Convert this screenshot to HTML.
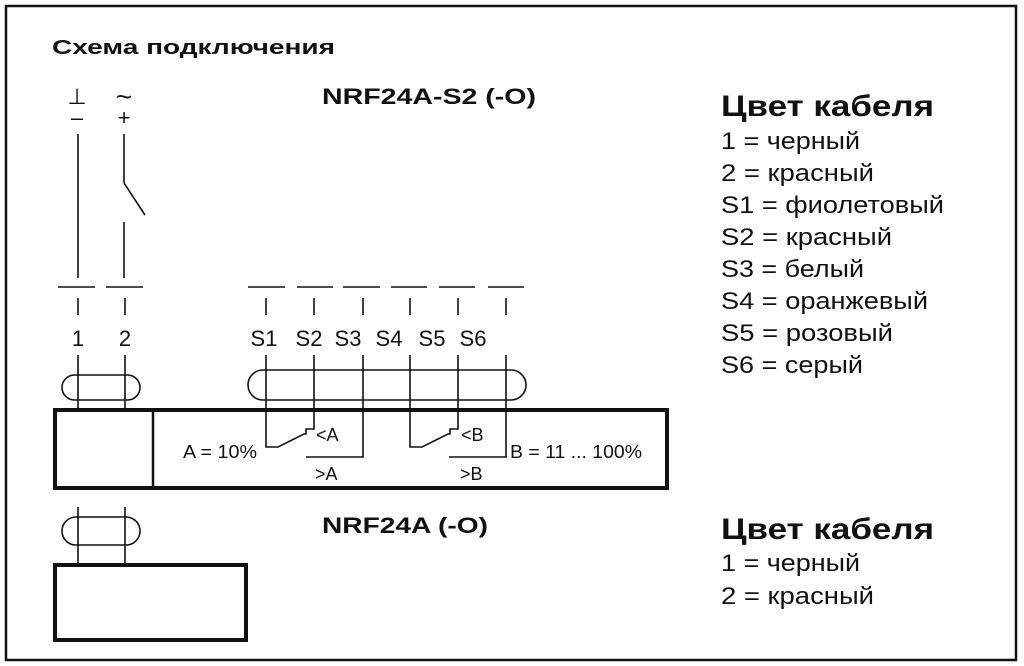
<!DOCTYPE html>
<html><head><meta charset="utf-8"><style>
html,body{margin:0;padding:0;background:#fff;}
svg{display:block;}
text{font-family:"Liberation Sans","DejaVu Sans",sans-serif;fill:#111;}
</style></head><body>
<svg width="1024" height="666" viewBox="0 0 1024 666" xmlns="http://www.w3.org/2000/svg">
<rect x="6" y="6" width="1010" height="654" fill="none" stroke="#111" stroke-width="2.5"/>
<text x="52" y="54" font-size="20" font-weight="bold" textLength="283" lengthAdjust="spacingAndGlyphs">Схема подключения</text>
<text x="322" y="104" font-size="22" font-weight="bold" textLength="214" lengthAdjust="spacingAndGlyphs">NRF24A-S2 (-O)</text>
<text x="322" y="533" font-size="22" font-weight="bold" textLength="166" lengthAdjust="spacingAndGlyphs">NRF24A (-O)</text>
<g font-size="30" font-weight="bold"><text x="721" y="116" textLength="213" lengthAdjust="spacingAndGlyphs">Цвет кабеля</text><text x="721" y="539" textLength="213" lengthAdjust="spacingAndGlyphs">Цвет кабеля</text></g>
<g font-size="24" lengthAdjust="spacingAndGlyphs">
<text x="721" y="149" textLength="139" lengthAdjust="spacingAndGlyphs">1 = черный</text>
<text x="721" y="181" textLength="153" lengthAdjust="spacingAndGlyphs">2 = красный</text>
<text x="721" y="213" textLength="223" lengthAdjust="spacingAndGlyphs">S1 = фиолетовый</text>
<text x="721" y="245" textLength="171" lengthAdjust="spacingAndGlyphs">S2 = красный</text>
<text x="721" y="277" textLength="143" lengthAdjust="spacingAndGlyphs">S3 = белый</text>
<text x="721" y="309" textLength="207" lengthAdjust="spacingAndGlyphs">S4 = оранжевый</text>
<text x="721" y="341" textLength="172" lengthAdjust="spacingAndGlyphs">S5 = розовый</text>
<text x="721" y="373" textLength="142" lengthAdjust="spacingAndGlyphs">S6 = серый</text>
<text x="721" y="571" textLength="139" lengthAdjust="spacingAndGlyphs">1 = черный</text>
<text x="721" y="604" textLength="153" lengthAdjust="spacingAndGlyphs">2 = красный</text>
</g>
<g font-size="22" text-anchor="middle">
<text x="77" y="104">⊥</text><text x="124" y="106" font-size="28">~</text>
<text x="77" y="125">–</text><text x="124" y="125">+</text>
<text x="78" y="346">1</text><text x="125" y="346">2</text>
<text x="264" y="346">S1</text><text x="309" y="346">S2</text><text x="348" y="346">S3</text>
<text x="389" y="346">S4</text><text x="432" y="346">S5</text><text x="473" y="346">S6</text>
</g>
<g stroke="#111" stroke-width="1.6" fill="none">
<line x1="78" y1="134" x2="78" y2="278"/>
<line x1="124" y1="134" x2="124" y2="183"/>
<line x1="124" y1="183" x2="145" y2="215"/>
<line x1="124" y1="222" x2="124" y2="278"/>
<line x1="58" y1="287" x2="95" y2="287"/><line x1="106" y1="287" x2="143" y2="287"/>
<line x1="248" y1="287" x2="285" y2="287"/><line x1="297" y1="287" x2="333" y2="287"/>
<line x1="343" y1="287" x2="380" y2="287"/><line x1="391" y1="287" x2="427" y2="287"/>
<line x1="439" y1="287" x2="475" y2="287"/><line x1="488" y1="287" x2="524" y2="287"/>
<g>
<line x1="78" y1="298" x2="78" y2="315"/><line x1="125" y1="298" x2="125" y2="315"/>
<line x1="266" y1="298" x2="266" y2="315"/><line x1="314" y1="298" x2="314" y2="315"/>
<line x1="363" y1="298" x2="363" y2="315"/><line x1="410" y1="298" x2="410" y2="315"/>
<line x1="458" y1="298" x2="458" y2="315"/><line x1="506" y1="298" x2="506" y2="315"/>
</g>
<line x1="78" y1="355" x2="78" y2="410"/><line x1="125" y1="355" x2="125" y2="410"/>
<rect x="62" y="375" width="78" height="25" rx="12.5"/>
<rect x="248" y="370" width="278" height="30" rx="15"/>
<polyline points="266,355 266,447 278,447 304,434 306,434 306,429 314,429 314,355"/>
<polyline points="363,355 363,457 306,457"/>
<polyline points="410,355 410,447 422,447 448,434 450,434 450,429 458,429 458,355"/>
<polyline points="506,355 506,457 449,457"/>
<line x1="78" y1="507" x2="78" y2="565"/><line x1="125" y1="507" x2="125" y2="565"/>
<rect x="62" y="517" width="78" height="28" rx="14"/>
</g>
<rect x="55" y="410" width="612" height="78" fill="none" stroke="#111" stroke-width="4"/>
<line x1="153" y1="410" x2="153" y2="488" stroke="#111" stroke-width="2.5"/>
<rect x="55" y="565" width="191" height="75" fill="none" stroke="#111" stroke-width="4"/>
<g font-size="18">
<text x="316" y="441">&lt;A</text><text x="315" y="480">&gt;A</text>
<text x="183" y="458" textLength="74" lengthAdjust="spacingAndGlyphs">A = 10%</text>
<text x="461" y="441">&lt;B</text><text x="460" y="480">&gt;B</text>
<text x="510" y="458" textLength="132" lengthAdjust="spacingAndGlyphs">B = 11 ... 100%</text>
</g>
</svg>
</body></html>
